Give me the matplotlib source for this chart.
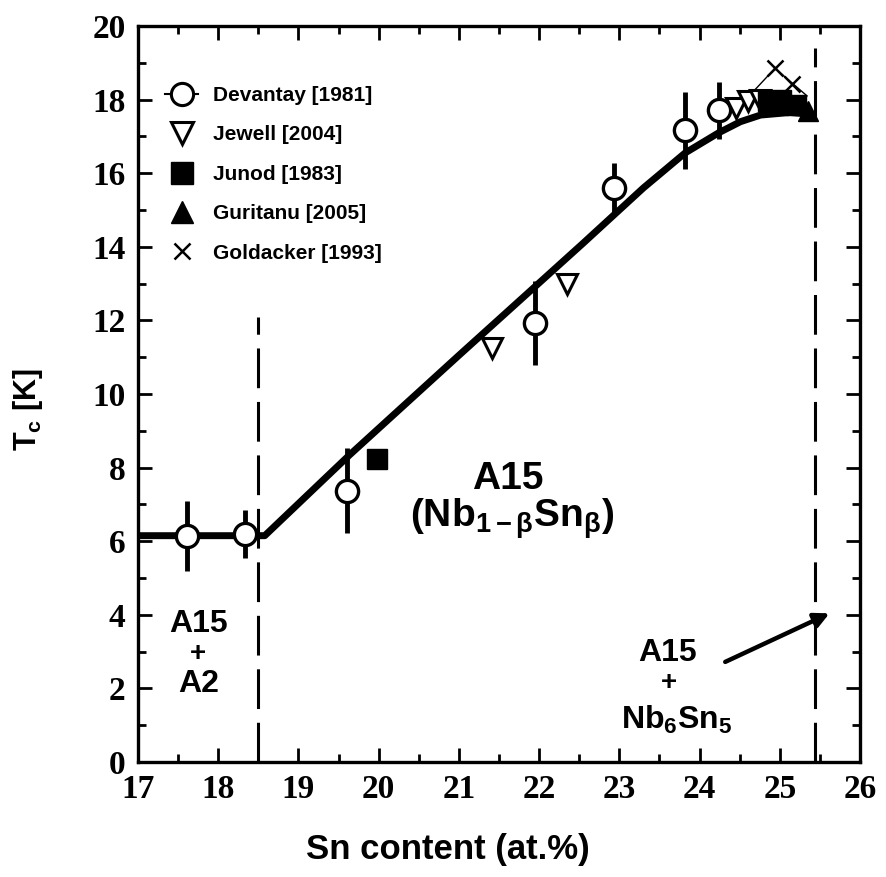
import matplotlib
matplotlib.use("Agg")
import matplotlib.pyplot as plt
from matplotlib.lines import Line2D
from matplotlib.ticker import MultipleLocator

plt.rcParams['font.family'] = ['Liberation Sans', 'DejaVu Sans']
plt.rcParams['mathtext.fontset'] = 'custom'
plt.rcParams['mathtext.rm'] = 'Liberation Sans:bold'
plt.rcParams['mathtext.bf'] = 'Liberation Sans:bold'
plt.rcParams['mathtext.it'] = 'Liberation Sans:bold'

# ---------------- data ----------------
dev_x = [17.61, 18.33, 19.60, 21.95, 22.93, 23.82, 24.24]
dev_y = [6.15, 6.20, 7.37, 11.93, 15.59, 17.17, 17.71]
dev_err = [0.95, 0.65, 1.15, 1.13, 0.70, 1.05, 0.77]

jew_x = [21.41, 22.35, 24.46, 24.60, 24.75]
jew_y = [11.25, 13.00, 17.77, 17.95, 18.00]

jun_x = [19.98, 24.85, 25.02, 25.20]
jun_y = [8.24, 17.95, 18.00, 17.85]

gur_x = [25.35]
gur_y = [17.70]

gold_x = [24.94, 25.15]
gold_y = [18.85, 18.43]
gold_line_x = [24.64, 24.94, 25.34]
gold_line_y = [18.15, 18.85, 18.10]

fit_x = [17.0, 18.58, 19.64, 21.0, 22.55, 23.3, 23.82, 24.24, 24.51, 24.76, 25.13, 25.4]
fit_y = [6.15, 6.15, 8.35, 11.05, 14.1, 15.6, 16.55, 17.1, 17.4, 17.58, 17.65, 17.6]

phase_x = [18.5, 25.44]
phase_top = [12.1, 19.4]

x_ticks = [17, 18, 19, 20, 21, 22, 23, 24, 25, 26]
y_ticks = [0, 2, 4, 6, 8, 10, 12, 14, 16, 18, 20]

labels = ['Devantay [1981]', 'Jewell [2004]', 'Junod [1983]',
          'Guritanu [2005]', 'Goldacker [1993]']

# ---------------- figure ----------------
W, H = 887, 877
fig = plt.figure(figsize=(W / 100, H / 100), dpi=100)
L, R, T, B = 138, 860, 26, 762
ax = fig.add_axes([L / W, 1 - B / H, (R - L) / W, (B - T) / H])
ax.set_xlim(17, 26)
ax.set_ylim(0, 20)

# phase boundaries
for px, pt in zip(phase_x, phase_top):
    ax.plot([px, px], [0, pt], color='k', lw=2.2, ls=(0, (13, 4.5)), zorder=1)

# fit curve
ax.plot(fit_x, fit_y, color='k', lw=5, solid_capstyle='butt', zorder=2)

# Goldacker thin line
ax.plot(gold_line_x, gold_line_y, color='k', lw=1.0, zorder=3)

# Devantay
ax.errorbar(dev_x, dev_y, yerr=dev_err, fmt='o', ms=16, mfc='white', mec='k',
            mew=2.4, ecolor='k', elinewidth=3.5, capsize=0, zorder=4)
# Jewell
ax.plot(jew_x, jew_y, 'v', ms=14, mfc='white', mec='k', mew=2.2, zorder=5)
# Junod
ax.plot(jun_x, jun_y, 's', ms=15, mfc='k', mec='k', zorder=5)
# Guritanu
ax.plot(gur_x, gur_y, '^', ms=15, mfc='k', mec='k', zorder=5)
# Goldacker
ax.plot(gold_x, gold_y, 'x', ms=12, mec='k', mew=1.8, zorder=6)

# legend
handles = [
    Line2D([], [], color='k', lw=1.5, marker='o', ms=16, mfc='white', mec='k', mew=2.2),
    Line2D([], [], ls='none', marker='v', ms=16, mfc='white', mec='k', mew=2.2),
    Line2D([], [], ls='none', marker='s', ms=16, mfc='k', mec='k'),
    Line2D([], [], ls='none', marker='^', ms=16, mfc='k', mec='k'),
    Line2D([], [], ls='none', marker='x', ms=12, mec='k', mew=1.8),
]
leg = ax.legend(handles, labels, loc='upper left',
                bbox_to_anchor=((165 - L) / (R - L), (B - 86) / (B - T)),
                frameon=False, borderpad=0, borderaxespad=0,
                handlelength=1.6, handletextpad=0.7, labelspacing=0.98,
                prop=dict(family='Liberation Sans', weight='bold', size=15))

# annotations
ax.text(17.75, 3.76, 'A15', ha='center', va='center', fontsize=23, fontweight='bold')
ax.text(17.75, 2.94, '+', ha='center', va='center', fontsize=20, fontweight='bold')
ax.text(17.75, 2.12, 'A2', ha='center', va='center', fontsize=23, fontweight='bold')

ax.text(21.61, 7.7, 'A15', ha='center', va='center', fontsize=28, fontweight='bold')
ax.text(21.66, 6.6, r'$\mathbf{(Nb_{1-β}Sn_{β})}$', ha='center', va='center',
        fontsize=28)

ax.text(23.6, 2.95, 'A15', ha='center', va='center', fontsize=23, fontweight='bold')
ax.text(23.62, 2.14, '+', ha='center', va='center', fontsize=20, fontweight='bold')
ax.text(23.72, 1.14, r'$\mathbf{Nb_6Sn_5}$', ha='center', va='center', fontsize=23)

ax.annotate('', xy=(25.62, 4.04), xytext=(24.32, 2.72),
            arrowprops=dict(arrowstyle='-|>', lw=3.2, color='k', mutation_scale=22,
                            shrinkA=0, shrinkB=0))

# axes styling
for s in ax.spines.values():
    s.set_linewidth(2.4)
ax.set_xticks(x_ticks)
ax.set_yticks(y_ticks)
ax.xaxis.set_minor_locator(MultipleLocator(0.5))
ax.yaxis.set_minor_locator(MultipleLocator(1))
ax.tick_params(which='both', direction='in', top=True, right=True, width=2)
ax.tick_params(which='major', length=10)
ax.tick_params(which='minor', length=6)
ax.tick_params(axis='x', which='major', pad=9)
ax.tick_params(axis='y', which='major', pad=9)
for lab in ax.get_xticklabels() + ax.get_yticklabels():
    lab.set_family('Liberation Serif')
    lab.set_fontweight('bold')
    lab.set_fontsize(24)

fig.text(448 / W, 1 - 850 / H, 'Sn content (at.%)', ha='center', va='center',
         fontsize=25, fontweight='bold',
         family=['Liberation Sans Narrow', 'Liberation Sans'])
fig.text(28 / W, 1 - 410 / H, r'$\mathbf{T_c}$ [K]', ha='center', va='center',
         rotation=90, fontsize=22, fontweight='bold')

fig.savefig('out.png', dpi=100, facecolor='white')
